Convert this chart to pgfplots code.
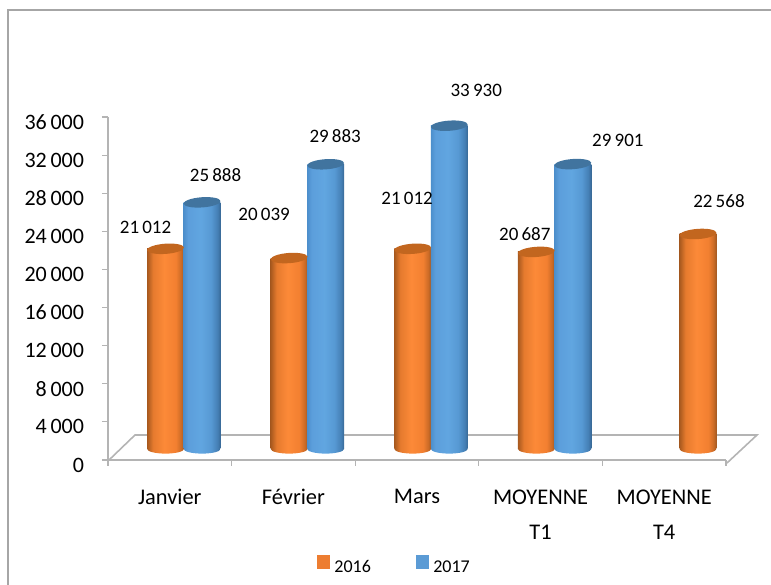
\documentclass[border=0pt]{standalone}
\usepackage{pgfplots}
\pgfplotsset{compat=1.18}
\usepackage{fontspec}
\setmainfont{Carlito}
\definecolor{frameg}{HTML}{A6A6A6}
\definecolor{axisg}{HTML}{B4B4B4}
\definecolor{oT}{HTML}{C2661F}
\definecolor{bT}{HTML}{41749F}
\definecolor{legO}{HTML}{ED7D31}
\definecolor{legB}{HTML}{5B9BD5}
\pgfdeclarehorizontalshading{ocyl}{100bp}{rgb(0bp)=(0.66,0.35,0.12);rgb(25bp)=(0.66,0.35,0.12);rgb(33bp)=(0.90,0.48,0.18);rgb(48bp)=(0.99,0.54,0.22);rgb(64bp)=(0.95,0.50,0.19);rgb(71bp)=(0.80,0.42,0.15);rgb(75bp)=(0.64,0.35,0.13);rgb(100bp)=(0.64,0.35,0.13)}
\pgfdeclarehorizontalshading{bcyl}{100bp}{rgb(0bp)=(0.30,0.56,0.80);rgb(25bp)=(0.30,0.56,0.80);rgb(31bp)=(0.36,0.62,0.86);rgb(48bp)=(0.38,0.65,0.88);rgb(62bp)=(0.34,0.60,0.83);rgb(71bp)=(0.27,0.50,0.71);rgb(75bp)=(0.22,0.41,0.59);rgb(100bp)=(0.22,0.41,0.59)}
\pgfdeclareplotmark{captop}{\pgfpathellipse{\pgfpointorigin}{\pgfqpoint{18.4pt}{1.3pt}}{\pgfqpoint{-0.3pt}{5.1pt}}\pgfusepath{fill}}
\pgfdeclareplotmark{capbotO}{\pgfpathellipse{\pgfpointorigin}{\pgfqpoint{18.4pt}{0pt}}{\pgfqpoint{0pt}{4.6pt}}\pgfshadepath{ocyl}{0}\pgfusepath{discard}}
\pgfdeclareplotmark{capbotB}{\pgfpathellipse{\pgfpointorigin}{\pgfqpoint{18.4pt}{0pt}}{\pgfqpoint{0pt}{4.6pt}}\pgfshadepath{bcyl}{0}\pgfusepath{discard}}
\begin{document}
\begin{tikzpicture}[x=1pt,y=1pt]
\path[use as bounding box] (0,0) rectangle (771,585);
% frame
\draw[frameg,line width=1.4pt] (8,0) -- (8,575) -- (771,575);
% floor
\draw[axisg,line width=1.6pt] (108,124) -- (135,150) -- (757,150) -- (727,122);
\begin{axis}[
  at={(108pt,125pt)},anchor=south west,
  scale only axis,width=618pt,height=343pt,
  xmin=-0.5,xmax=4.5,ymin=0,ymax=36000,
  axis x line*=bottom,axis y line*=left,
  axis line style={axisg,line width=1.6pt,-},
  tick align=outside,
  ytick={0,4000,...,36000},
  xtick={0,1,2,3,4},
  xticklabels={Janvier,Février,Mars,MOYENNE\\T1,MOYENNE\\T4},
  x tick label style={font=\fontsize{22.4}{35}\selectfont,align=center,yshift=-20pt,anchor=north},
  y tick label style={font=\fontsize{22}{24}\selectfont,xshift=-14.5pt,yshift=-5pt},
  major x tick style={draw=none},
  minor xtick={-0.5,0.5,1.5,2.5,3.5,4.5},
  minor tick length=6pt,
  minor tick style={axisg,line width=1.2pt},
  major tick length=6pt,
  ytick style={axisg,line width=1.2pt},
  scaled y ticks=false,
  /pgf/number format/.cd,1000 sep={\,},assume math mode=true,
  /pgfplots/legend style={at={(0.333,-0.345)},anchor=south west,draw=none,fill=none,
    font=\fontsize{18}{20}\selectfont,legend columns=2,
    /tikz/every even column/.append style={column sep=43pt}},
  legend image code/.code={\fill[#1] (0pt,-1pt) rectangle (12pt,12pt);},
]
\addlegendimage{legO,fill=legO}
\addlegendentry{\hspace{3pt}2016}
\addlegendimage{legB,fill=legB}
\addlegendentry{\hspace{3pt}2017}
\end{axis}
\begin{axis}[
  at={(122pt,136pt)},anchor=south west,
  scale only axis,width=618pt,height=343pt,
  xmin=-0.5,xmax=4.5,ymin=0,ymax=36000,
  hide axis,clip=false,
  ybar,bar width=36.8pt,bar shift=0pt,
]
% 2016 bases
\addplot[only marks,draw=none,mark=capbotO] coordinates {(-0.1477,0) (0.8523,0) (1.8523,0) (2.8523,0) (4.16,0)};
% 2016 cylinders
\addplot[draw=none,shading=ocyl] coordinates {(-0.1477,21012)};
\addplot[draw=none,shading=ocyl] coordinates {(0.8523,20039)};
\addplot[draw=none,shading=ocyl] coordinates {(1.8523,21012)};
\addplot[draw=none,shading=ocyl] coordinates {(2.8523,20687)};
\addplot[draw=none,shading=ocyl] coordinates {(4.16,22568)};
\addplot[only marks,mark=captop,mark options={oT,draw=none}] coordinates {(-0.1477,21012) (0.8523,20039) (1.8523,21012) (2.8523,20687) (4.16,22568)};
% 2017 bases
\addplot[only marks,draw=none,mark=capbotB] coordinates {(0.1477,0) (1.1477,0) (2.1477,0) (3.1477,0)};
% 2017 cylinders
\addplot[draw=none,shading=bcyl] coordinates {(0.1477,25888)};
\addplot[draw=none,shading=bcyl] coordinates {(1.1477,29883)};
\addplot[draw=none,shading=bcyl] coordinates {(2.1477,33930)};
\addplot[draw=none,shading=bcyl] coordinates {(3.1477,29901)};
\addplot[only marks,mark=captop,mark options={bT,draw=none}] coordinates {(0.1477,25888) (1.1477,29883) (2.1477,33930) (3.1477,29901)};
\begin{scope}[every node/.style={font=\fontsize{19}{20}\selectfont,inner sep=0pt}]
\node at ([shift={(-20pt,21pt)}]axis cs:-0.1477,21012) {21\,012};
\node at ([shift={(13.5pt,27pt)}]axis cs:0.1477,25888) {25\,888};
\node at ([shift={(-25pt,44pt)}]axis cs:0.8523,20039) {20\,039};
\node at ([shift={(9.5pt,28pt)}]axis cs:1.1477,29883) {29\,883};
\node at ([shift={(-5.6pt,50pt)}]axis cs:1.8523,21012) {21\,012};
\node at ([shift={(27pt,35pt)}]axis cs:2.1477,33930) {33\,930};
\node at ([shift={(-11.5pt,18pt)}]axis cs:2.8523,20687) {20\,687};
\node at ([shift={(45pt,24pt)}]axis cs:3.1477,29901) {29\,901};
\node at ([shift={(21pt,33pt)}]axis cs:4.16,22568) {22\,568};
\end{scope}
\end{axis}
\end{tikzpicture}
\end{document}
